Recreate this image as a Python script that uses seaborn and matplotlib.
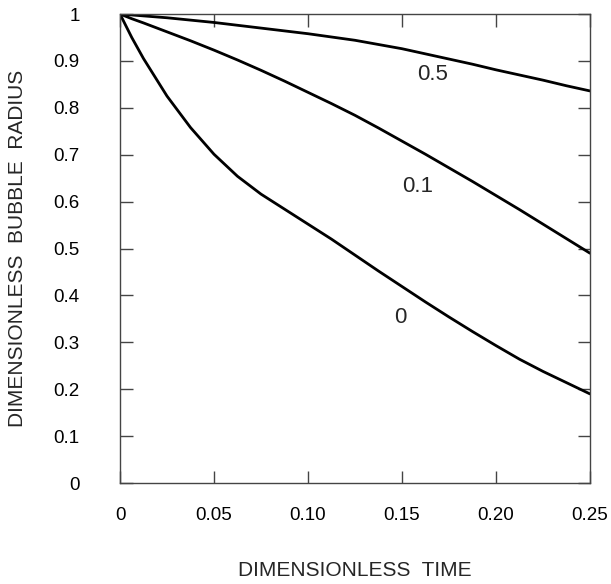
import matplotlib
matplotlib.use("Agg")
import matplotlib.pyplot as plt
import seaborn as sns
import pandas as pd

# dimensionless time and bubble radius for three parameter values
time = [0, 0.00625, 0.0125, 0.025, 0.0375, 0.05, 0.0625, 0.075, 0.0875, 0.1, 0.1125,
        0.125, 0.1375, 0.15, 0.1625, 0.175, 0.1875, 0.2, 0.2125, 0.225, 0.2375, 0.25]
radius_0 = [1.0, 0.950, 0.905, 0.825, 0.758, 0.701, 0.654, 0.616, 0.584, 0.552, 0.520,
            0.486, 0.452, 0.419, 0.386, 0.354, 0.323, 0.293, 0.264, 0.238, 0.214, 0.190]
radius_01 = [1.0, 0.990, 0.981, 0.962, 0.943, 0.923, 0.902, 0.880, 0.857, 0.833, 0.809,
             0.784, 0.757, 0.729, 0.701, 0.672, 0.643, 0.613, 0.583, 0.552, 0.521, 0.490]
radius_05 = [1.0, 0.998, 0.996, 0.992, 0.987, 0.982, 0.976, 0.970, 0.964, 0.958, 0.951,
             0.944, 0.935, 0.926, 0.915, 0.904, 0.893, 0.881, 0.870, 0.859, 0.847, 0.836]
curve_names = ["0", "0.1", "0.5"]
label_pos = [(0.149, 0.352), (0.1585, 0.633), (0.1665, 0.870)]

xticks = [0, 0.05, 0.10, 0.15, 0.20, 0.25]
xtick_labels = ["0", "0.05", "0.10", "0.15", "0.20", "0.25"]
yticks = [0, 0.1, 0.2, 0.3, 0.4, 0.5, 0.6, 0.7, 0.8, 0.9, 1.0]
ytick_labels = ["0", "0.1", "0.2", "0.3", "0.4", "0.5", "0.6", "0.7", "0.8", "0.9", "1"]

rows = []
for name, vals in zip(curve_names, [radius_0, radius_01, radius_05]):
    for t, r in zip(time, vals):
        rows.append((name, t, r))
df = pd.DataFrame(rows, columns=["curve", "time", "radius"])

sns.set_style("ticks")
plt.rcParams["font.family"] = ["Liberation Sans", "DejaVu Sans"]

fig = plt.figure(figsize=(6.11, 5.84), dpi=100)
ax = fig.add_axes([0.1964, 0.1729, 0.7692, 0.8031])

sns.lineplot(data=df, x="time", y="radius", hue="curve",
             palette=["black"] * 3, linewidth=2, legend=False, ax=ax)

for name, (tx, ty) in zip(curve_names, label_pos):
    ax.text(tx, ty, name, fontsize=16, ha="center", va="center")

ax.set_xlim(0, 0.25)
ax.set_ylim(0, 1)
ax.set_xticks(xticks)
ax.set_xticklabels(xtick_labels)
ax.set_yticks(yticks)
ax.set_yticklabels(ytick_labels)
ax.tick_params(direction="in", length=9, width=1, color="#444444",
               top=True, right=True, labelsize=13.5, labelcolor="black")
ax.tick_params(axis="x", pad=17)
ax.tick_params(axis="y", pad=29)
for sp in ax.spines.values():
    sp.set_linewidth(1)
    sp.set_color("#444444")

ax.set_xlabel("DIMENSIONLESS  TIME", fontsize=15)
ax.set_ylabel("DIMENSIONLESS  BUBBLE  RADIUS", fontsize=15)
ax.xaxis.set_label_coords(0.5, -0.166)
ax.yaxis.set_label_coords(-0.198, 0.5)

fig.savefig("out.png", dpi=100, facecolor="white")
